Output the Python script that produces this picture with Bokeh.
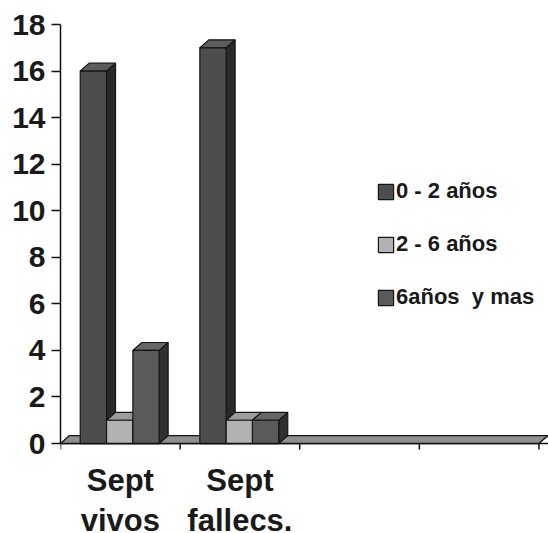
from bokeh.plotting import figure
from bokeh.models import (Range1d, FixedTicker, Legend, LegendItem)
from bokeh.core.properties import value
from bokeh.embed import file_html
from bokeh.resources import INLINE

# ---- data ----
categories = ["Sept\nvivos", "Sept\nfallecs.", "", ""]
series_names = ["0 - 2 años", "2 - 6 años", "6años  y mas"]
s_0_2 = [16, 17]
s_2_6 = [1, 1]
s_6_mas = [4, 1]
y_ticks = [0, 2, 4, 6, 8, 10, 12, 14, 16, 18]

series_values = [s_0_2, s_2_6, s_6_mas]
front_colors = ["#4d4d4d", "#b2b2b2", "#5a5a5a"]
side_colors = ["#2a2a2a", "#767676", "#303030"]
top_colors = ["#5c5c5c", "#9c9c9c", "#666666"]
edge = "#151515"
axis_color = "#111111"
font = "Liberation Sans"

# layout (3D illusion) and label placement, in data units
bar_w = 0.22
group_off = 0.165
dx = 0.075   # depth shift in x
dy = 0.34    # depth shift in y
tick_len = 0.26
line1_y = -1.59
line2_y = -3.31
x_end = 4.08
y_bottom = -3.865   # room below zero for the category labels

p = figure(width=548, height=533, output_backend="svg", toolbar_location=None,
           x_range=Range1d(0, x_end), y_range=Range1d(y_bottom, y_ticks[-1]),
           min_border_left=60, min_border_right=0, min_border_top=24,
           min_border_bottom=0, x_axis_location=None)
p.outline_line_color = None
p.xgrid.visible = False
p.ygrid.visible = False
p.background_fill_color = "white"

n_cat = len(categories)

# floor
p.patch([0, n_cat, n_cat + dx, dx], [0, 0, dy, dy],
        fill_color="#8f8f8f", line_color=edge, line_width=1.3)

renderers = []
for si, vals in enumerate(series_values):
    lefts = [ci + group_off + si * bar_w for ci in range(len(vals))]
    rights = [l + bar_w for l in lefts]
    side_xs = [[r, r + dx, r + dx, r] for r in rights]
    side_ys = [[0, dy, v + dy, v] for v in vals]
    top_xs = [[l, r, r + dx, l + dx] for l, r in zip(lefts, rights)]
    top_ys = [[v, v, v + dy, v + dy] for v in vals]
    p.patches(side_xs, side_ys, fill_color=side_colors[si], line_color=edge, line_width=1.2)
    p.patches(top_xs, top_ys, fill_color=top_colors[si], line_color=edge, line_width=1.2)
    r = p.quad(left=lefts, right=rights, bottom=[0] * len(vals), top=vals,
               fill_color=front_colors[si], line_color=edge, line_width=1.2)
    renderers.append(r)

# category axis: base line at zero, separator ticks, two-line labels
p.segment(x0=[0], y0=[0], x1=[x_end], y1=[0], line_color=axis_color, line_width=1.5)
tick_x = list(range(n_cat + 1))
p.segment(x0=tick_x, y0=[0] * len(tick_x), x1=tick_x, y1=[-tick_len] * len(tick_x),
          line_color=axis_color, line_width=1.5)

label_pos = [i + 0.5 for i in range(n_cat) if categories[i]]
first_lines = [c.split("\n")[0] for c in categories if c]
second_lines = [c.split("\n")[1] for c in categories if c]
for lines, ly in ((first_lines, line1_y), (second_lines, line2_y)):
    p.text(x=label_pos, y=[ly] * len(label_pos), text=lines,
           text_align="center", text_baseline="alphabetic",
           text_font=value(font), text_font_style="bold",
           text_font_size="31px", text_color="#1a1a1a")

# value axis
ya = p.yaxis[0]
ya.bounds = (0, y_ticks[-1])
ya.ticker = FixedTicker(ticks=y_ticks, minor_ticks=[])
ya.major_tick_out = 9
ya.major_tick_in = 0
ya.major_tick_line_color = axis_color
ya.major_tick_line_width = 1.5
ya.axis_line_color = axis_color
ya.axis_line_width = 1.5
ya.major_label_text_font = font
ya.major_label_text_font_style = "bold"
ya.major_label_text_font_size = "30px"
ya.major_label_text_color = "#1a1a1a"
ya.major_label_standoff = 6

legend = Legend(items=[LegendItem(label=n, renderers=[r]) for n, r in zip(series_names, renderers)],
                location=(316, 223))
legend.border_line_color = None
legend.background_fill_alpha = 0
legend.padding = 0
legend.margin = 0
legend.label_text_font = font
legend.label_text_font_style = "bold"
legend.label_text_font_size = "22px"
legend.label_text_color = "#1a1a1a"
legend.glyph_width = 19
legend.glyph_height = 19
legend.label_standoff = 1
legend.label_height = 24
legend.spacing = 27
p.add_layout(legend)

open("out.html", "w").write(file_html(p, INLINE))
